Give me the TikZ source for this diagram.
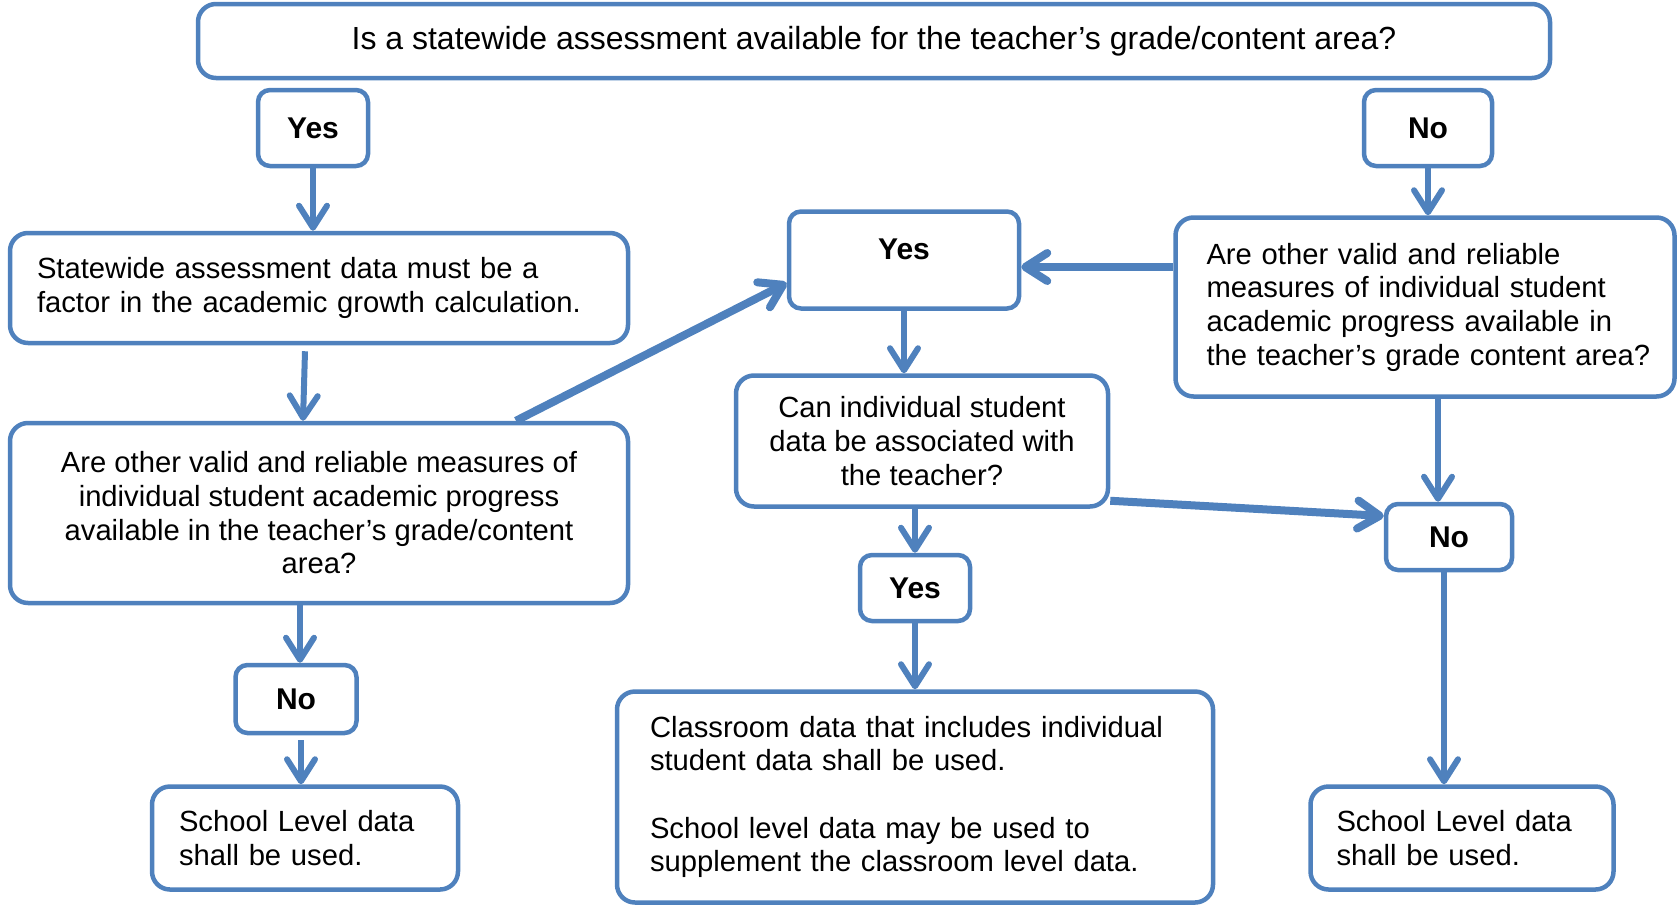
\documentclass[tikz,border=0pt]{standalone}
\usepackage{fontspec}
\setmainfont{Liberation Sans}
\usetikzlibrary{arrows.meta,calc}
\definecolor{bl}{HTML}{4F81BD}
\begin{document}
\begin{tikzpicture}[x=1pt,y=-1pt,
  box/.style={draw=bl, line width=4.5pt, rounded corners=18pt, inner sep=0pt,
    font=\fontsize{29.2}{33.7}\selectfont, anchor=center},
  sbox/.style={box, rounded corners=12pt, font=\fontsize{30}{34}\selectfont\bfseries},
  arr/.style={draw=bl, line width=6pt, -{Straight Barb[length=22pt,width=28pt,round]}},
  tarr/.style={arr, line width=8pt}]
\useasboundingbox (0,0) rectangle (1680,905);

\node[box, minimum width=1352pt, minimum height=74pt, font=\fontsize{32}{36}\selectfont] (top) at (874,41)
  {Is a statewide assessment available for the teacher’s grade/content area?};
\node[sbox, minimum width=110pt, minimum height=76pt] (yes1) at (313,128) {Yes};
\node[sbox, minimum width=128pt, minimum height=76pt] (no1) at (1428,128) {No};
\node[box, minimum width=618pt, minimum height=110pt, text width=564pt, inner xsep=27pt, align=left] (sw) at (319,288)
  {\mbox{Statewide assessment data must be a}\\\mbox{factor in the academic growth calculation.}};
\node[sbox, minimum width=230pt, minimum height=97pt, text height=21pt, text depth=23pt] (yes2) at (904,260) {Yes};
\node[box, minimum width=499pt, minimum height=179pt, text width=437pt, inner xsep=31pt, align=left] (areR) at (1425,307)
  {\mbox{Are other valid and reliable}\\\mbox{measures of individual student}\\\mbox{academic progress available in}\\\mbox{the teacher’s grade content area?}};
\node[box, minimum width=372pt, minimum height=131pt, align=center] (can) at (922,441)
  {Can individual student\\data be associated with\\the teacher?};
\node[box, minimum width=618pt, minimum height=180pt, align=center] (areL) at (319,513)
  {Are other valid and reliable measures of\\individual student academic progress\\available in the teacher’s grade/content\\area?};
\node[sbox, minimum width=126pt, minimum height=66pt] (noR) at (1449,537) {No};
\node[sbox, minimum width=110pt, minimum height=66pt] (yes3) at (915,588) {Yes};
\node[sbox, minimum width=121pt, minimum height=68pt] (noL) at (296,699) {No};
\node[box, minimum width=306pt, minimum height=103pt, text width=252pt, inner xsep=27pt, align=left] (schL) at (305,838)
  {\mbox{School Level data}\\\mbox{shall be used.}};
\node[box, minimum width=596pt, minimum height=211pt, text width=530pt, inner xsep=33pt, align=left] (cls) at (915,797)
  {\mbox{Classroom data that includes individual}\\\mbox{student data shall be used.}\\[33.5pt]\mbox{School level data may be used to}\\\mbox{supplement the classroom level data.}};
\node[box, minimum width=303pt, minimum height=103pt, text width=251pt, inner xsep=26pt, align=left] (schR) at (1462,838)
  {\mbox{School Level data}\\\mbox{shall be used.}};

% connectors
\coordinate (h1) at (0,267);
\coordinate (c3) at ($(sw.south)+(-14,6)$);
\coordinate (c4) at ($(areL.south)+(-19,0)$);
\coordinate (c5) at ($(noL.south)+(5,5)$);
\coordinate (c12) at ($(areR.south)+(13,0)$);
\coordinate (c13) at ($(noR.south)+(-5,0)$);

\draw[arr] (yes1.south) -- (yes1.south |- sw.north);
\draw[arr] (no1.south) -- (no1.south |- areR.north);
\draw[arr] (c3) -- ($(areL.north)+(-16,0)$);
\draw[arr] (c4) -- (c4 |- noL.north);
\draw[arr] (c5) -- (c5 |- schL.north);
\draw[tarr] ($(areL.north)+(197,0)$) -- ($(yes2.west)+(0,23)$);
\draw[tarr] (areR.west |- h1) -- (yes2.east |- h1);
\draw[arr] (yes2.south) -- (yes2.south |- can.north);
\draw[arr] (yes3.north |- can.south) -- (yes3.north);
\draw[arr] (yes3.south) -- (yes3.south |- cls.north);
\draw[tarr] ($(can.south east)+(0,-8)$) -- ($(noR.west)+(0,-21)$);
\draw[arr] (c12) -- (c12 |- noR.north);
\draw[arr] (c13) -- (c13 |- schR.north);
\end{tikzpicture}
\end{document}
